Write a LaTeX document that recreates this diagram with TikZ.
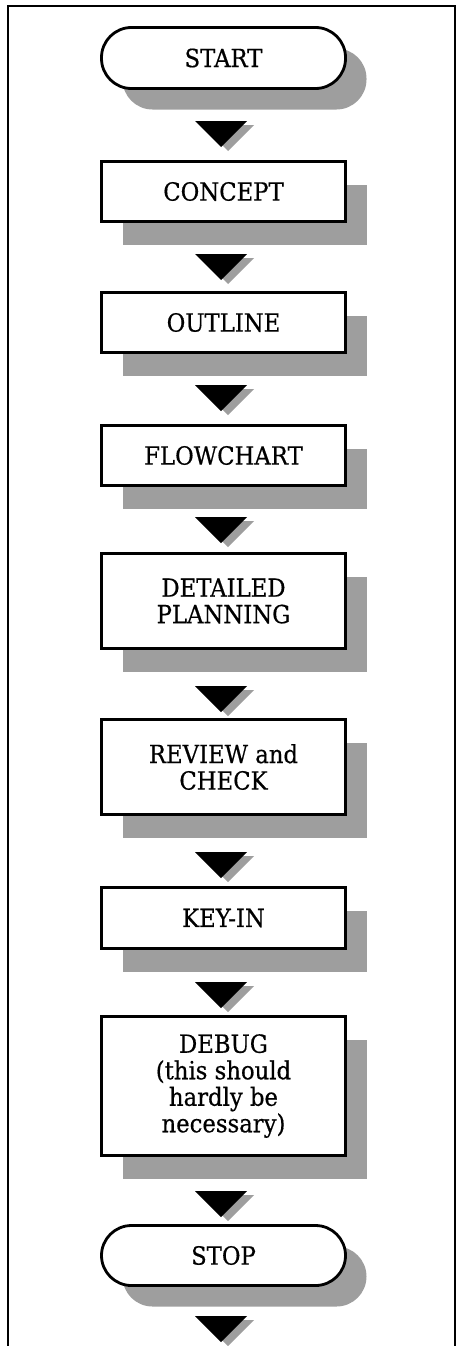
\documentclass[tikz,border=0pt]{standalone}
\usepackage{fontspec}
\setmainfont{DejaVu Serif}[FakeStretch=0.91, FakeBold=0.5]
\usetikzlibrary{shadows}

\tikzset{
  x=1pt, y=1pt,
  halftone/.style={fill=black!38},
  boxbase/.style={draw, line width=2.8pt, fill=white, minimum width=244pt,
    align=center, inner sep=0pt, font=\fontsize{25}{26.5}\selectfont},
  stepbox/.style={boxbase,
    drop shadow={shadow xshift=21pt, shadow yshift=-23pt, halftone, opacity=1}},
  termbox/.style={boxbase, rounded corners=30pt,
    drop shadow={shadow xshift=21pt, shadow yshift=-21pt, halftone, opacity=1}},
  flowarrow/.pic={
    \fill[halftone] (-26+7,-4) -- (26+7,-4) -- (7,-30) -- cycle;
    \fill[black] (-26,0) -- (26,0) -- (0,-26) -- cycle;
  },
}

\begin{document}
\begin{tikzpicture}
\useasboundingbox (0,0) rectangle (460,-1346);

% outer frame, open at the bottom
\draw[line width=2pt] (8,-1346) -- (8,-6) -- (455,-6) -- (455,-1346);

% process steps
\node[termbox, minimum height=61pt] (start)     at (223.5,-58)     {START};
\node[stepbox, minimum height=60pt] (concept)   at (223.5,-191.5)  {CONCEPT};
\node[stepbox, minimum height=60pt] (outline)   at (223.5,-322.5)  {OUTLINE};
\node[stepbox, minimum height=60pt] (flowchart) at (223.5,-455.5)  {FLOWCHART};
\node[stepbox, minimum height=95pt] (planning)  at (223.5,-601)    {DETAILED\\PLANNING};
\node[stepbox, minimum height=95pt] (review)    at (223.5,-767)    {REVIEW and\\CHECK};
\node[stepbox, minimum height=61pt] (keyin)     at (223.5,-918)    {KEY-IN};
\node[stepbox, minimum height=139pt] (debug)    at (223.5,-1086)   {DEBUG\\(this should\\hardly be\\necessary)};
\node[termbox, minimum height=60pt] (stop)      at (223.5,-1255.5) {STOP};

% flow arrows between the steps
\pic (a1) at (221,-121)  {flowarrow};
\pic (a2) at (221,-254)  {flowarrow};
\pic (a3) at (221,-385)  {flowarrow};
\pic (a4) at (221,-517)  {flowarrow};
\pic (a5) at (221,-686)  {flowarrow};
\pic (a6) at (221,-852)  {flowarrow};
\pic (a7) at (221,-982)  {flowarrow};
\pic (a8) at (221,-1191) {flowarrow};
\pic (a9) at (221,-1316) {flowarrow};
\end{tikzpicture}
\end{document}
